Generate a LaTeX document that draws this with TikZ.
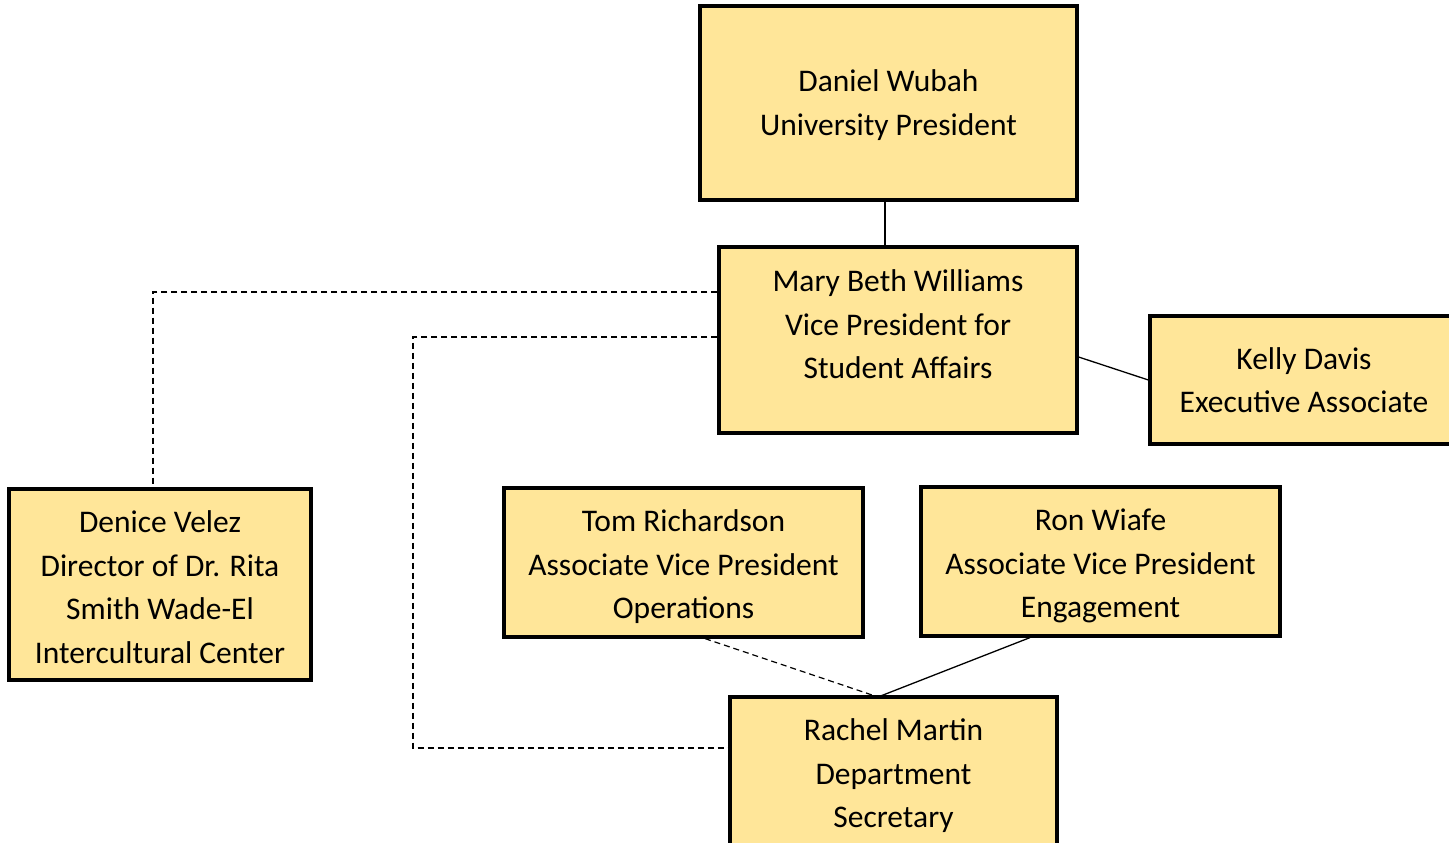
\documentclass[tikz,border=0pt]{standalone}
\usepackage{fontspec}
\setmainfont{Carlito}
\definecolor{boxfill}{HTML}{FFE699}
\begin{document}
\begin{tikzpicture}[x=1pt,y=-1pt,
  box/.style={draw=black, line width=3.2pt, fill=boxfill, rectangle, inner sep=0pt},
  txt/.style={align=center, inner sep=0pt, font=\fontsize{31.5}{43.5}\selectfont},
  link/.style={line width=1.3pt, draw=black},
  dlink/.style={line width=1.2pt, draw=black, dash pattern=on 6pt off 4pt}]
\useasboundingbox (0,0) rectangle (1449,843);
% boxes
\node[box, minimum width=377, minimum height=194] (wubah) at (888.5,103) {};
\node[box, minimum width=358, minimum height=186] (williams) at (898,340) {};
\node[box, minimum width=302, minimum height=128] (davis) at (1301,380) {};
\node[box, minimum width=302, minimum height=191] (velez) at (160,584.5) {};
\node[box, minimum width=359, minimum height=149] (richardson) at (683.5,562.5) {};
\node[box, minimum width=359, minimum height=149] (wiafe) at (1100.5,561.5) {};
\node[box, minimum width=327, minimum height=186] (martin) at (893.5,790) {};
% texts
\node[txt] (wubahT) at (888.5,105) {Daniel Wubah\\University President};
\node[txt] (williamsT) at (898,324.5) {Mary Beth Williams\\Vice President for\\Student Affairs};
\node[txt] (davisT) at (1304,380) {Kelly Davis\\Executive Associate};
\node[txt] (velezT) at (160,587) {Denice Velez\\Director of Dr. Rita\\Smith Wade-El\\Intercultural Center};
\node[txt] (richardsonT) at (683.5,567) {Tom Richardson\\Associate Vice President\\Operations};
\node[txt] (wiafeT) at (1100.5,566) {Ron Wiafe\\Associate Vice President\\Engagement};
\node[txt] (martinT) at (893.5,776) {Rachel Martin\\Department\\Secretary};
% connectors
\coordinate (mjoin) at (878,697);
\draw[link] (wubah.south -| 885,0) -- (williams.north -| 885,0);
\draw[link] (williams.east |- 0,357) -- (davis.west |- 0,380);
\draw[dlink] (williams.west |- 0,292) -| (velez.north -| 153,0);
\draw[dlink] (williams.west |- 0,337) -- (413,337) |- (martin.west |- 0,748);
\draw[dlink] (richardson.south -| 705,0) -- (mjoin);
\draw[link] (wiafe.south -| 1030,0) -- (mjoin);
\end{tikzpicture}
\end{document}
